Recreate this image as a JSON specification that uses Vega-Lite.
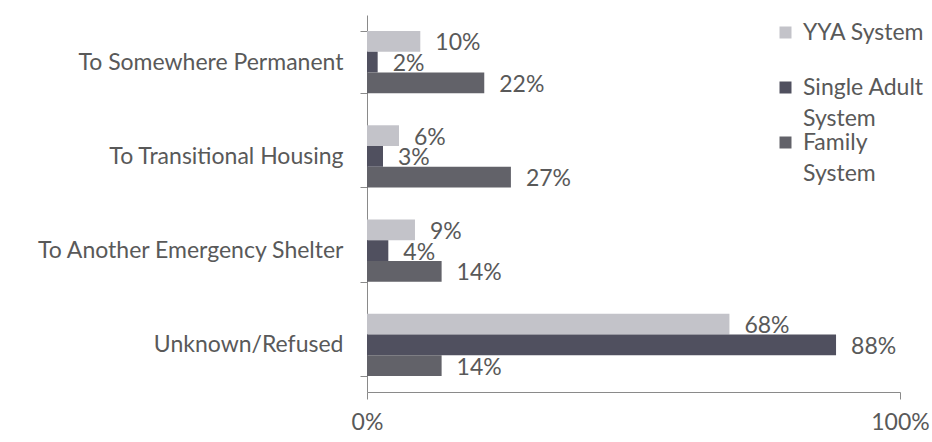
{
  "$schema": "https://vega.github.io/schema/vega-lite/v6.json",
  "width": 533,
  "height": 377,
  "autosize": {"type": "none"},
  "padding": {"left": 367, "top": 15, "right": 32, "bottom": 50},
  "background": "white",
  "config": {
    "view": {"stroke": null},
    "font": "Lato",
    "text": {"font": "Lato"},
    "style": {"guide-label": {"lineHeight": 31}}
  },
  "data": {
    "values": [
      {"cat": "To Somewhere Permanent", "series": "YYA System", "val": 0.10},
      {"cat": "To Somewhere Permanent", "series": "Single Adult System", "val": 0.02},
      {"cat": "To Somewhere Permanent", "series": "Family System", "val": 0.22},
      {"cat": "To Transitional Housing", "series": "YYA System", "val": 0.06},
      {"cat": "To Transitional Housing", "series": "Single Adult System", "val": 0.03},
      {"cat": "To Transitional Housing", "series": "Family System", "val": 0.27},
      {"cat": "To Another Emergency Shelter", "series": "YYA System", "val": 0.09},
      {"cat": "To Another Emergency Shelter", "series": "Single Adult System", "val": 0.04},
      {"cat": "To Another Emergency Shelter", "series": "Family System", "val": 0.14},
      {"cat": "Unknown/Refused", "series": "YYA System", "val": 0.68},
      {"cat": "Unknown/Refused", "series": "Single Adult System", "val": 0.88},
      {"cat": "Unknown/Refused", "series": "Family System", "val": 0.14}
    ]
  },
  "encoding": {
    "y": {
      "field": "cat",
      "type": "nominal",
      "sort": ["To Somewhere Permanent", "To Transitional Housing", "To Another Emergency Shelter", "Unknown/Refused"],
      "scale": {"paddingInner": 0.34, "paddingOuter": 0.17},
      "axis": {
        "title": null,
        "labelFontSize": 23,
        "labelColor": "#595959",
        "labelPadding": 17,
        "tickSize": 7,
        "tickBand": "extent",
        "tickColor": "#8a8a8a",
        "domainColor": "#8a8a8a",
        "labelLimit": 400
      }
    },
    "yOffset": {
      "field": "series",
      "type": "nominal",
      "sort": ["YYA System", "Single Adult System", "Family System"],
      "scale": {"paddingInner": 0, "paddingOuter": 0}
    },
    "x": {
      "field": "val",
      "type": "quantitative",
      "scale": {"domain": [0, 1], "nice": false},
      "axis": {
        "title": null,
        "values": [0, 1],
        "format": ".0%",
        "grid": false,
        "labelFontSize": 23,
        "labelColor": "#595959",
        "labelPadding": 12,
        "tickSize": 7,
        "tickColor": "#8a8a8a",
        "domainColor": "#8a8a8a",
        "labelFlush": false
      }
    }
  },
  "layer": [
    {
      "mark": {"type": "bar"},
      "encoding": {
        "color": {
          "field": "series",
          "type": "nominal",
          "sort": ["YYA System", "Single Adult System", "Family System"],
          "scale": {"domain": ["YYA System", "Single Adult System", "Family System"], "range": ["#c3c3c9", "#50505f", "#626269"]},
          "legend": {
            "title": null,
            "orient": "none",
            "legendX": 407,
            "legendY": 6,
            "symbolType": "square",
            "symbolSize": 144,
            "symbolStrokeWidth": 0,
            "labelFontSize": 23,
            "labelColor": "#595959",
            "labelOffset": 6,
            "rowPadding": 0,
            "labelExpr": "datum.label == 'Single Adult System' ? ['Single Adult', 'System'] : datum.label == 'Family System' ? ['Family', 'System'] : [datum.label, ' ']"
          }
        }
      }
    },
    {
      "mark": {"type": "text", "align": "left", "baseline": "middle", "dx": 15, "dy": 2, "fontSize": 23, "color": "#595959"},
      "encoding": {
        "text": {"field": "val", "type": "quantitative", "format": ".0%"}
      }
    }
  ]
}
